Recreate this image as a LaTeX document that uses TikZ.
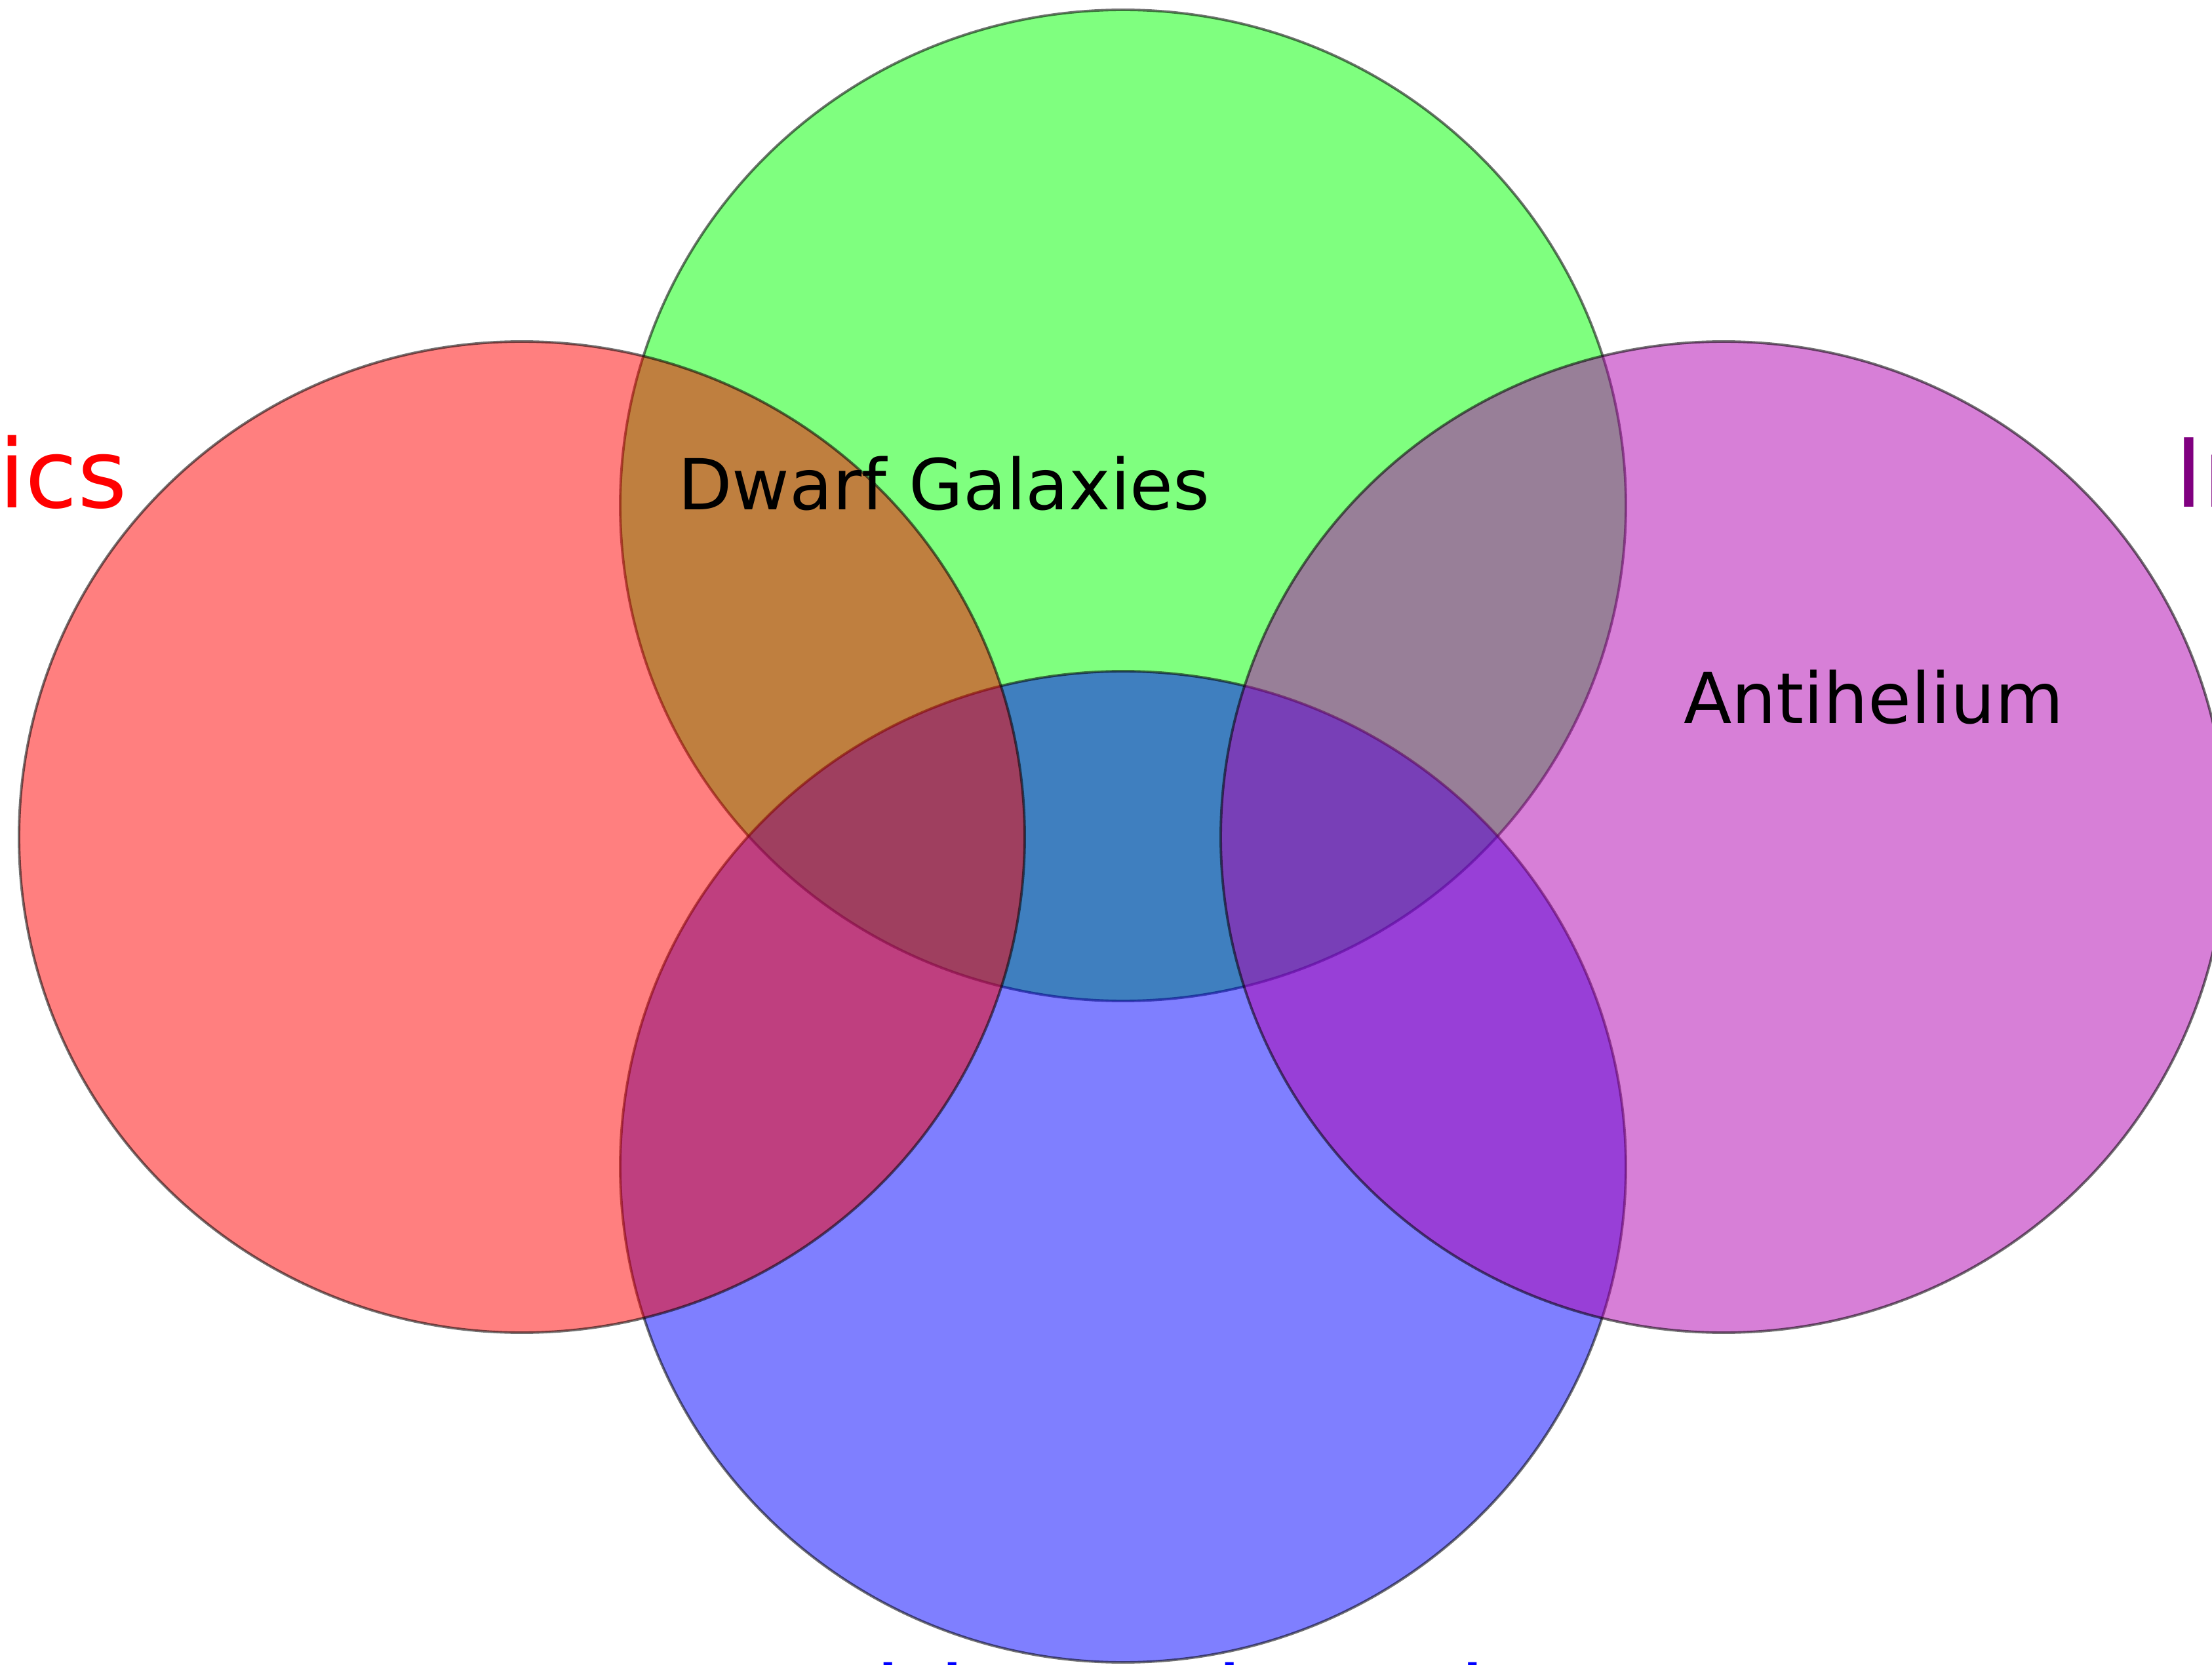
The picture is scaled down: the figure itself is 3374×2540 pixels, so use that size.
\documentclass[tikz,border=0pt]{standalone}
\usepackage{fontspec}
\setmainfont{DejaVu Sans}
\usepackage{tikz}
\usetikzlibrary{positioning}
\definecolor{vennred}{RGB}{255,0,0}
\definecolor{venngreen}{RGB}{0,255,0}
\definecolor{vennblue}{RGB}{0,0,255}
\definecolor{vennpurple}{RGB}{177,0,177}
\definecolor{labelpurple}{RGB}{128,0,128}

\begin{document}
\begin{tikzpicture}[
  x=0.01cm, y=-0.01cm,
  set/.style={draw=black, draw opacity=0.55, line width=1.1pt, fill opacity=0.5},
  sublabel/.style={font=\fontsize{30.5}{37}\selectfont, text=black, inner sep=0pt, anchor=base},
  setlabel/.style={font=\fontsize{41.3}{49}\selectfont, inner sep=0pt}
]
\useasboundingbox (0,0) rectangle (3374,2540);
\clip (0,0) rectangle (3374,2540);

% the four sets
\fill[white] (0,0) rectangle (3374,2540);
\draw[set, fill=venngreen] (1713,771) ellipse [x radius=767, y radius=756];
\draw[set, fill=vennblue] (1713,1780) ellipse [x radius=767, y radius=756];
\draw[set, fill=vennred] (796,1277) ellipse [x radius=767, y radius=756];
\draw[set, fill=vennpurple] (2629,1277) ellipse [x radius=767, y radius=756];

% set labels
\node[setlabel, text=vennred, anchor=base east] (redlabel) at (195,775) {ics};
\node[setlabel, text=labelpurple, anchor=base west] (purplelabel) at (3317,774) {In};
\node[setlabel, text=vennblue, anchor=base] (bluelabel) at (1718,2646) {Multiwavelength};

% subset labels
\node[sublabel] (dwarf) at (1440,778) {Dwarf Galaxies};
\node[sublabel] (antihe) at (2858,1104) {Antihelium};
\end{tikzpicture}
\end{document}
